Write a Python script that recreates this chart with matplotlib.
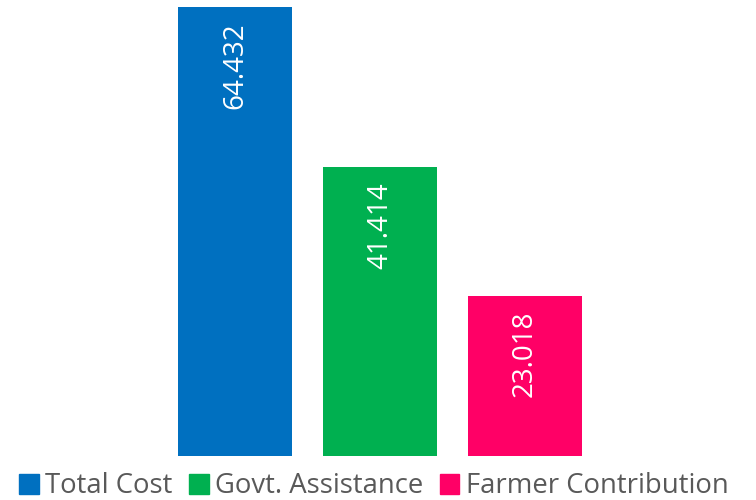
import matplotlib.pyplot as plt
import matplotlib.patches as mpatches

plt.rcParams['font.family'] = ['Open Sans', 'DejaVu Sans']

categories = ["Total Cost", "Govt. Assistance", "Farmer Contribution"]
values = [64.432, 41.414, 23.018]
colors = ["#0070C0", "#00B050", "#FF0066"]

fig = plt.figure(figsize=(7.56, 5), dpi=100)
ax = fig.add_axes([0, 0.088, 1, 0.898])

xs = list(range(len(values)))
ax.bar(xs, values, width=0.79, color=colors)
for x, v in zip(xs, values):
    ax.annotate("{:.3f}".format(v), (x, v), xytext=(0, -11), textcoords="offset points",
                rotation=90, ha="center", va="top", color="white", fontsize=20)

ax.set_xlim(-235 / 145, (756 - 235) / 145)
ax.set_ylim(0, max(values))
ax.axis("off")

handles = [mpatches.Patch(color=c, label=l) for c, l in zip(colors, categories)]
fig.legend(handles=handles, loc="lower center", bbox_to_anchor=(0.495, -0.05), ncol=3,
           frameon=False, fontsize=19.8, handlelength=0.7, handleheight=0.75,
           handletextpad=0.25, columnspacing=0.6, labelcolor="#595959")

fig.savefig("out.png", dpi=100)
